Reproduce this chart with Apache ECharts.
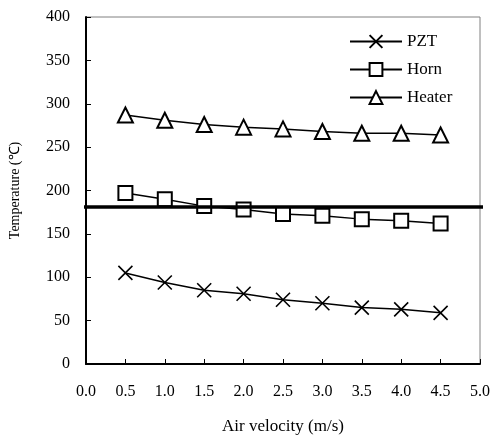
<!DOCTYPE html>
<html>
<head>
<meta charset="utf-8">
<script src="https://cdn.jsdelivr.net/npm/echarts@6/dist/echarts.min.js"></script>
<style>
  html, body { margin: 0; padding: 0; background: #fff; }
  #chart { width: 493px; height: 440px; }
</style>
</head>
<body>
<div id="chart"></div>
<script>
// air velocity (m/s)
const velocity = [0.5, 1.0, 1.5, 2.0, 2.5, 3.0, 3.5, 4.0, 4.5];
// temperatures (C)
const pzt = [105, 94, 85, 81, 74, 70, 65, 63, 59];
const horn = [197, 190, 182, 178, 173, 171, 167, 165, 162];
const heater = [287, 281, 276, 273, 271, 268, 266, 266, 264];
// reference level line
const refLevel = 181;
const refSpan = [-0.15, 5.18];

const FONT = 'Liberation Serif';
const crossPath = 'path://M0,0L10,10M10,0L0,10';

function pairs(ys) {
  return velocity.map((x, i) => [x, ys[i]]);
}

function lineSeries(name, ys, symbol, size) {
  return {
    name: name,
    type: 'line',
    data: pairs(ys),
    symbol: symbol,
    symbolSize: size,
    showAllSymbol: true,
    lineStyle: { color: '#000', width: 1.5 },
    itemStyle: { color: '#000', borderColor: '#000', borderWidth: 1.6 },
    emphasis: { disabled: true },
    z: 3
  };
}

const chart = echarts.init(document.getElementById('chart'));
chart.setOption({
  backgroundColor: '#fff',
  animation: false,
  textStyle: { fontFamily: FONT },
  grid: {
    left: 85, right: 10, top: 17, bottom: 73,
    show: true, borderColor: '#808080', borderWidth: 1
  },
  legend: {
    data: ['PZT', 'Horn', 'Heater'],
    orient: 'vertical',
    left: 349, top: 33, padding: 0,
    itemWidth: 52, itemHeight: 16, itemGap: 11,
    textStyle: { fontFamily: FONT, fontSize: 17, color: '#000', padding: [0, 0, 0, 0] }
  },
  xAxis: {
    type: 'value',
    min: 0, max: 5, interval: 0.5,
    name: 'Air velocity (m/s)',
    nameLocation: 'middle',
    nameGap: 54,
    nameTextStyle: { fontFamily: FONT, fontSize: 17, color: '#000' },
    axisLine: { lineStyle: { color: '#000', width: 2 } },
    axisTick: { inside: true, length: 5, lineStyle: { color: '#000', width: 1 } },
    axisLabel: { margin: 20, fontFamily: FONT, fontSize: 16, color: '#000',
      formatter: v => v.toFixed(1) },
    splitLine: { show: false }
  },
  yAxis: {
    type: 'value',
    min: 0, max: 400, interval: 50,
    name: 'Temperature (℃)',
    nameLocation: 'middle',
    nameGap: 64,
    nameTextStyle: { fontFamily: FONT, fontSize: 14, color: '#000' },
    axisLine: { show: true, lineStyle: { color: '#000', width: 2 } },
    axisTick: { show: true, inside: true, length: 5, lineStyle: { color: '#000', width: 1 } },
    axisLabel: { margin: 16, fontFamily: FONT, fontSize: 16, color: '#000' },
    splitLine: { show: false }
  },
  series: [
    lineSeries('PZT', pzt, crossPath, 14),
    lineSeries('Horn', horn, 'emptyRect', 14),
    lineSeries('Heater', heater, 'emptyTriangle', 15),
    {
      name: 'level',
      type: 'line',
      data: refSpan.map(x => [x, refLevel]),
      symbol: 'none',
      clip: false,
      lineStyle: { color: '#000', width: 3.5 },
      emphasis: { disabled: true },
      silent: true,
      z: 4
    }
  ]
});
</script>
</body>
</html>
